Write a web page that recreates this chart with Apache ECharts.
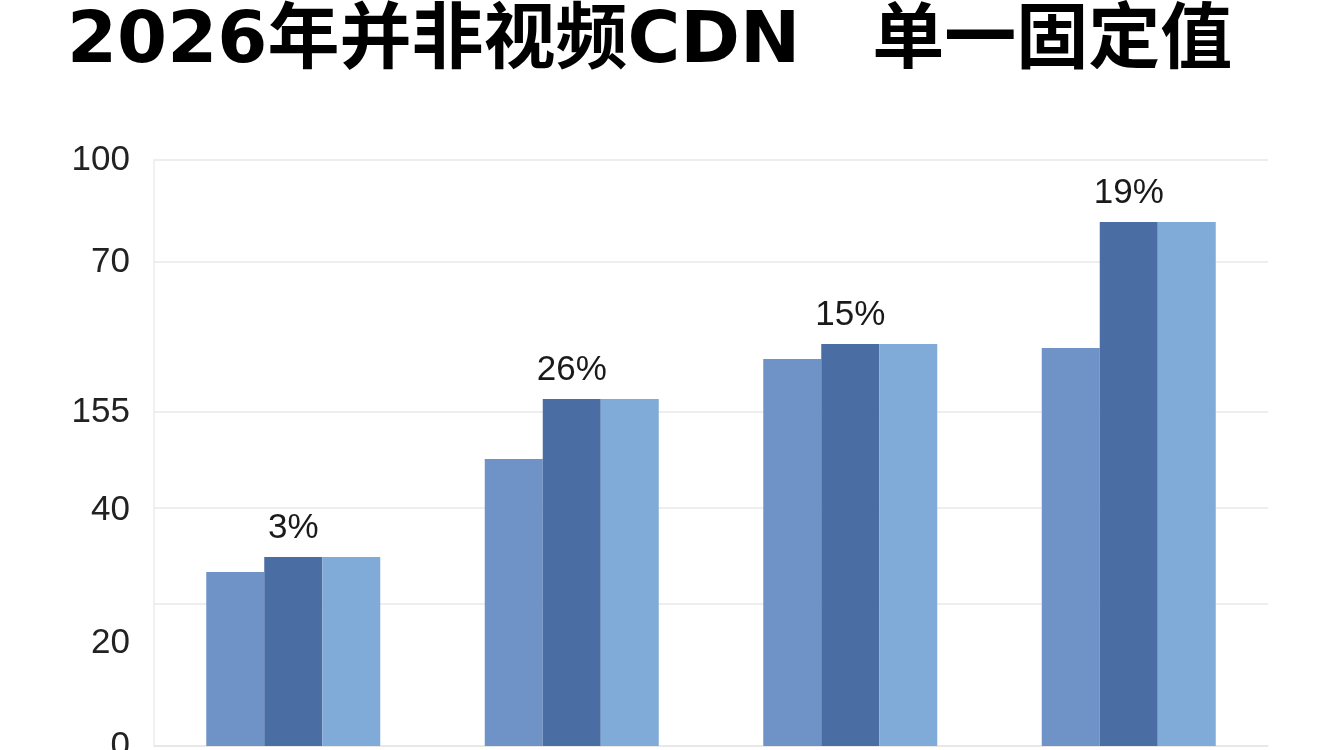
<!DOCTYPE html>
<html>
<head>
<meta charset="utf-8">
<script src="https://cdn.jsdelivr.net/npm/echarts@6/dist/echarts.min.js"></script>
<style>
html,body{margin:0;padding:0;background:#fff;overflow:hidden;}
#c{width:1344px;height:750px;}
</style>
</head>
<body>
<div id="c"></div>
<script>
// Data (values in the chart's own vertical axis units)
var categories = ['A', 'B', 'C', 'D'];
var seriesLeft = [174, 287, 387, 398];
var seriesMiddle = [189, 347, 402, 524];
var seriesRight = [189, 347, 402, 524];
var barLabels = ['3%', '26%', '15%', '19%'];
// Axis: gridline values and tick label values/texts (as printed in the picture)
var gridValues = [0, 142, 238, 334, 484, 586];
var tickLabelValues = [586, 484, 334, 236, 103, 0];
var tickLabelTexts = ['100', '70', '155', '40', '20', '0'];
var titleText = '2026年并非视频CDN\u3000单一固定值';

var chart = echarts.init(document.getElementById('c'), null, {renderer: 'canvas'});
var option = {
  backgroundColor: '#ffffff',
  animation: false,
  title: {
    text: titleText,
    left: 62,
    top: 1,
    textStyle: {
      fontFamily: '"DejaVu Sans", "Noto Sans CJK SC", sans-serif',
      fontWeight: 'bold',
      fontSize: 72,
      lineHeight: 74,
      color: '#000000'
    }
  },
  grid: {left: 154, right: 76, top: 160, bottom: 4, containLabel: false, outerBoundsMode: 'none'},
  xAxis: {
    type: 'category',
    data: categories,
    axisLine: {show: true, lineStyle: {color: '#e6e6e6', width: 1.5}},
    axisTick: {show: false},
    axisLabel: {show: false},
    splitLine: {show: false}
  },
  yAxis: {
    type: 'value',
    min: 0,
    max: 586,
    axisLine: {show: true, lineStyle: {color: '#ececec', width: 1.5}},
    axisTick: {show: false, customValues: gridValues},
    splitLine: {show: true, lineStyle: {color: '#e9e9e9', width: 1.5}},
    axisLabel: {
      show: true,
      customValues: tickLabelValues,
      margin: 24,
      fontSize: 35,
      fontFamily: '"Liberation Sans", Arial, sans-serif',
      color: '#222222',
      formatter: function (v) {
        var i = tickLabelValues.indexOf(v);
        return i >= 0 ? tickLabelTexts[i] : '';
      }
    }
  },
  series: [
    {
      type: 'bar',
      data: seriesLeft,
      barWidth: 58,
      barGap: '0%',
      itemStyle: {color: '#7093c7'}
    },
    {
      type: 'bar',
      data: seriesMiddle,
      barWidth: 58,
      barGap: '0%',
      itemStyle: {color: '#4a6da3'},
      label: {
        show: true,
        position: 'top',
        distance: 11,
        fontSize: 35,
        fontFamily: '"Liberation Sans", Arial, sans-serif',
        color: '#1a1a1a',
        formatter: function (p) { return barLabels[p.dataIndex]; }
      }
    },
    {
      type: 'bar',
      data: seriesRight,
      barWidth: 58,
      barGap: '0%',
      itemStyle: {color: '#80abd9'}
    }
  ]
};
chart.setOption(option);
</script>
</body>
</html>
